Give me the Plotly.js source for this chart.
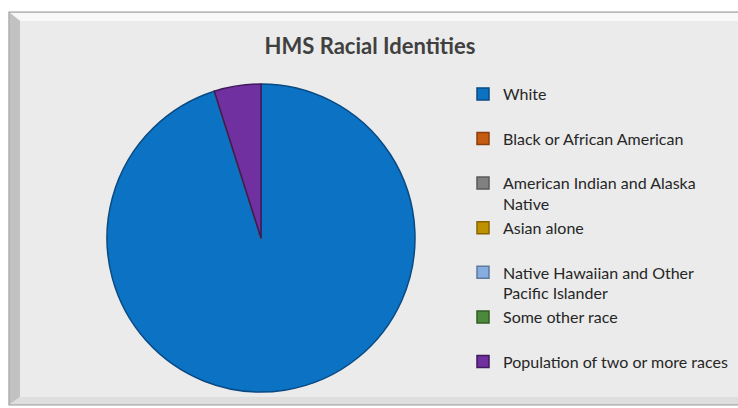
<!DOCTYPE html>
<html>
<head>
<meta charset="utf-8">
<script src="https://cdn.plot.ly/plotly-3.0.1.min.js"></script>
<style>
  html, body { margin: 0; padding: 0; background: #ffffff; }
  #chart { width: 738px; height: 408px; }
</style>
</head>
<body>
<div id="chart"></div>
<script>
// ---- data ----
const categories = [
  "White",
  "Black or African American",
  "American Indian and Alaska Native",
  "Asian alone",
  "Native Hawaiian and Other Pacific Islander",
  "Some other race",
  "Population of two or more races"
];
// legend text as wrapped in the reference
const legendLabels = [
  "White<br>\u00a0",
  "Black or African American<br>\u00a0",
  "American Indian and Alaska<br>Native",
  "Asian alone<br>\u00a0",
  "Native Hawaiian and Other<br>Pacific Islander",
  "Some other race<br>\u00a0",
  "Population of two or more races<br>\u00a0"
];
const percentValues = [95.1, 0, 0, 0, 0, 0, 4.9];
const sliceColors = ["#0b72c4", "#c55a11", "#808080", "#bf9000", "#86ade0", "#4a8a3a", "#7030a0"];
const edgeColors  = ["#0a4a82", "#8a3f0c", "#595959", "#866500", "#5e7a9e", "#345b25", "#3f1a5c"];

// ---- layout helpers (pixel -> paper) ----
const W = 738, H = 408;
const px = x => x / W;
const py = y => 1 - y / H;
function pathPx(pts) {
  return "M" + pts.map(p => px(p[0]) + "," + py(p[1])).join("L") + "Z";
}

const shapes = [
  { type: "rect", xref: "paper", yref: "paper", layer: "below",
    x0: px(9), x1: px(745), y0: py(405), y1: py(12),
    fillcolor: "#d6d6d6", line: { color: "#9c9c9c", width: 1.2 } },
  { type: "path", xref: "paper", yref: "paper", layer: "below",
    path: pathPx([[10,13],[740,13],[740,21],[20,21]]),
    fillcolor: "#f8f8f8", line: { width: 0 } },
  { type: "path", xref: "paper", yref: "paper", layer: "below",
    path: pathPx([[10,13],[20,21],[20,397],[10,404]]),
    fillcolor: "#c2c2c2", line: { width: 0 } },
  { type: "path", xref: "paper", yref: "paper", layer: "below",
    path: pathPx([[10,404],[20,397],[740,397],[740,404]]),
    fillcolor: "#dedede", line: { width: 0 } },
  { type: "rect", xref: "paper", yref: "paper", layer: "below",
    x0: px(20), x1: px(740), y0: py(397), y1: py(21),
    fillcolor: "#ebebeb", line: { width: 0 } }
];

const cx = 261, cy = 238, r = 154;

const trace = {
  type: "pie",
  labels: legendLabels,
  values: percentValues,
  customdata: categories,
  hovertemplate: "%{customdata}: %{value}%<extra></extra>",
  sort: false,
  direction: "clockwise",
  rotation: 0,
  textinfo: "none",
  marker: { colors: sliceColors, line: { color: edgeColors, width: 1.5 } },
  domain: { x: [px(cx - r), px(cx + r)], y: [py(cy + r), py(cy - r)] }
};

const layout = {
  width: W, height: H,
  margin: { l: 0, r: 0, t: 0, b: 0 },
  paper_bgcolor: "#ffffff",
  plot_bgcolor: "rgba(0,0,0,0)",
  font: { family: "Lato, 'Open Sans', sans-serif", color: "#262626" },
  title: {
    text: "<b>HMS Racial Identities</b>",
    font: { family: "Lato, 'Open Sans', sans-serif", size: 22, color: "#404040" },
    x: px(370), xref: "paper", xanchor: "center",
    y: py(46), yref: "paper", yanchor: "middle"
  },
  showlegend: true,
  legend: {
    x: px(463), xanchor: "left",
    y: py(77), yanchor: "top",
    bgcolor: "rgba(0,0,0,0)",
    font: { size: 16, color: "#262626" },
    valign: "top",
    traceorder: "normal"
  },
  shapes: shapes
};

Plotly.newPlot("chart", [trace], layout, { displayModeBar: false });
</script>
</body>
</html>
